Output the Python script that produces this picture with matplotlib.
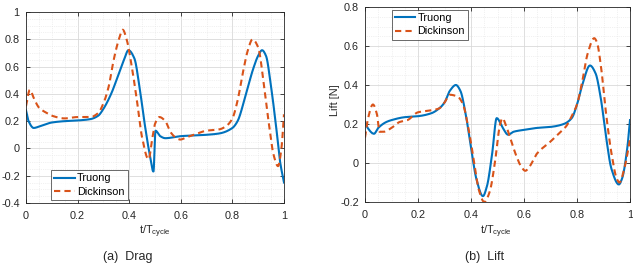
import numpy as np
import matplotlib
matplotlib.use("Agg")
import matplotlib.pyplot as plt
from matplotlib.ticker import MultipleLocator

plt.rcParams['font.family'] = ['Liberation Sans', 'DejaVu Sans']

BLUE = '#0072BD'
ORANGE = '#D95319'

# ---- Drag data ----
drag_truong_t = [0.0, 0.01, 0.03, 0.05, 0.1, 0.15, 0.2, 0.25, 0.28, 0.3, 0.33, 0.36, 0.38, 0.397, 0.42,
                 0.44, 0.46, 0.48, 0.494, 0.502, 0.52, 0.54, 0.6, 0.7, 0.75, 0.8, 0.82, 0.85, 0.88, 0.9,
                 0.915, 0.93, 0.95, 0.97, 0.985, 1.0]
drag_truong_v = [0.28, 0.2, 0.15, 0.16, 0.19, 0.2, 0.205, 0.215, 0.24, 0.29, 0.4, 0.55, 0.65, 0.72, 0.66,
                 0.45, 0.18, -0.05, -0.17, 0.13, 0.09, 0.075, 0.09, 0.1, 0.11, 0.15, 0.2, 0.38, 0.58, 0.68,
                 0.72, 0.68, 0.45, 0.15, -0.1, -0.25]
drag_dick_t = [0.0, 0.015, 0.03, 0.05, 0.08, 0.1, 0.15, 0.2, 0.25, 0.28, 0.3, 0.32, 0.34, 0.36, 0.375,
               0.39, 0.41, 0.43, 0.45, 0.475, 0.49, 0.5, 0.517, 0.54, 0.56, 0.58, 0.598, 0.62, 0.65, 0.7,
               0.75, 0.78, 0.8, 0.82, 0.84, 0.86, 0.878, 0.9, 0.92, 0.94, 0.96, 0.977, 0.99, 1.0]
drag_dick_v = [0.31, 0.43, 0.37, 0.3, 0.26, 0.24, 0.22, 0.23, 0.23, 0.26, 0.33, 0.45, 0.65, 0.8, 0.87,
               0.8, 0.6, 0.35, 0.08, -0.08, 0.08, 0.18, 0.23, 0.2, 0.12, 0.08, 0.065, 0.08, 0.1, 0.13,
               0.14, 0.17, 0.22, 0.35, 0.55, 0.72, 0.8, 0.74, 0.5, 0.2, -0.05, -0.13, 0.0, 0.25]

# ---- Lift data ----
lift_truong_t = [0.0, 0.01, 0.034, 0.05, 0.08, 0.1, 0.15, 0.2, 0.25, 0.28, 0.3, 0.32, 0.343, 0.36, 0.38,
                 0.4, 0.42, 0.445, 0.46, 0.48, 0.497, 0.52, 0.54, 0.56, 0.6, 0.65, 0.7, 0.75, 0.78, 0.8,
                 0.82, 0.849, 0.87, 0.89, 0.91, 0.93, 0.958, 0.97, 0.99, 1.0]
lift_truong_v = [0.21, 0.18, 0.15, 0.18, 0.21, 0.22, 0.235, 0.24, 0.255, 0.28, 0.31, 0.37, 0.40, 0.37, 0.25,
                 0.08, -0.08, -0.17, -0.12, 0.05, 0.23, 0.18, 0.145, 0.16, 0.17, 0.18, 0.185, 0.2, 0.23, 0.3,
                 0.4, 0.5, 0.46, 0.33, 0.13, -0.03, -0.11, -0.08, 0.08, 0.22]
lift_dick_t = [0.0, 0.01, 0.03, 0.045, 0.055, 0.07, 0.1, 0.13, 0.16, 0.2, 0.25, 0.28, 0.3, 0.32, 0.35,
               0.37, 0.39, 0.41, 0.43, 0.45, 0.47, 0.49, 0.51, 0.519, 0.53, 0.55, 0.57, 0.59, 0.605, 0.62,
               0.65, 0.7, 0.73, 0.76, 0.78, 0.8, 0.82, 0.84, 0.865, 0.875, 0.89, 0.91, 0.93, 0.95, 0.96,
               0.98, 1.0]
lift_dick_v = [0.13, 0.22, 0.3, 0.25, 0.16, 0.16, 0.18, 0.21, 0.22, 0.26, 0.27, 0.28, 0.31, 0.35, 0.34,
               0.3, 0.18, 0.02, -0.14, -0.2, -0.15, 0.0, 0.2, 0.23, 0.2, 0.12, 0.04, -0.02, -0.04, -0.02,
               0.05, 0.11, 0.15, 0.19, 0.24, 0.3, 0.42, 0.56, 0.64, 0.62, 0.5, 0.25, 0.05, -0.08, -0.1,
               -0.02, 0.12]

series_labels = ['Truong', 'Dickinson']
x_ticks = [0, 0.2, 0.4, 0.6, 0.8, 1]
x_ticklabels = ['0', '0.2', '0.4', '0.6', '0.8', '1']
drag_yticks = [-0.4, -0.2, 0, 0.2, 0.4, 0.6, 0.8, 1]
drag_yticklabels = ['-0.4', '-0.2', '0', '0.2', '0.4', '0.6', '0.8', '1']
lift_yticks = [-0.2, 0, 0.2, 0.4, 0.6, 0.8]
lift_yticklabels = ['-0.2', '0', '0.2', '0.4', '0.6', '0.8']


def smooth(t, v):
    t = np.asarray(t); v = np.asarray(v)
    tt = np.linspace(t[0], t[-1], 800)
    h = np.diff(t); d = np.diff(v) / h
    m = np.zeros_like(v)
    for i in range(1, len(v) - 1):
        if d[i - 1] * d[i] <= 0:
            m[i] = 0
        else:
            w1 = 2 * h[i] + h[i - 1]; w2 = h[i] + 2 * h[i - 1]
            m[i] = (w1 + w2) / (w1 / d[i - 1] + w2 / d[i])
    m[0] = d[0]; m[-1] = d[-1]
    idx = np.clip(np.searchsorted(t, tt) - 1, 0, len(h) - 1)
    s = (tt - t[idx]) / h[idx]
    h00 = 2 * s**3 - 3 * s**2 + 1; h10 = s**3 - 2 * s**2 + s
    h01 = -2 * s**3 + 3 * s**2; h11 = s**3 - s**2
    yy = h00 * v[idx] + h10 * h[idx] * m[idx] + h01 * v[idx + 1] + h11 * h[idx] * m[idx + 1]
    return tt, yy


W, H = 633, 265
fig = plt.figure(figsize=(W / 100, H / 100), dpi=100)
ax1 = fig.add_axes([26/W, 1-203/H, 258/W, 191/H])
ax2 = fig.add_axes([365/W, 1-202/H, 265/W, 195/H])

FS = 7.8
TXT = '#262626'

def style(ax, yticks, yticklabels, ylim):
    ax.set_xlim(0, 1)
    ax.set_ylim(*ylim)
    ax.set_xticks(x_ticks)
    ax.set_xticklabels(x_ticklabels)
    ax.set_yticks(yticks)
    ax.set_yticklabels(yticklabels)
    ax.xaxis.set_minor_locator(MultipleLocator(0.05))
    ax.yaxis.set_minor_locator(MultipleLocator(0.05))
    ax.grid(which='major', color='#d9d9d9', linewidth=0.6)
    ax.grid(which='minor', color='#e4e4e4', linewidth=0.5, linestyle=':')
    ax.set_axisbelow(True)
    ax.tick_params(which='both', direction='in', labelsize=FS, colors=TXT, length=3, width=0.6)
    ax.tick_params(axis='y', pad=4.5)
    ax.tick_params(axis='x', pad=6)
    ax.tick_params(which='minor', length=0)
    ax.tick_params(top=True, right=True)
    for sp in ax.spines.values():
        sp.set_color(TXT); sp.set_linewidth(0.6)


LEG = dict(fontsize=FS, frameon=True, fancybox=False, edgecolor=TXT, borderpad=0.3, labelspacing=0.3,
           handlelength=1.9, handletextpad=0.2, borderaxespad=0)

t, y = smooth(drag_truong_t, drag_truong_v)
ax1.plot(t, y, color=BLUE, lw=1.5, label=series_labels[0])
t, y = smooth(drag_dick_t, drag_dick_v)
ax1.plot(t, y, color=ORANGE, lw=1.5, ls=(0, (3, 2)), label=series_labels[1])
style(ax1, drag_yticks, drag_yticklabels, (-0.4, 1.0))
leg1 = ax1.legend(loc='lower left', bbox_to_anchor=(0.097, 0.016), **LEG)
leg1.get_frame().set_linewidth(0.6)

t, y = smooth(lift_truong_t, lift_truong_v)
ax2.plot(t, y, color=BLUE, lw=1.5, label=series_labels[0])
t, y = smooth(lift_dick_t, lift_dick_v)
ax2.plot(t, y, color=ORANGE, lw=1.5, ls=(0, (3, 2)), label=series_labels[1])
style(ax2, lift_yticks, lift_yticklabels, (-0.2, 0.8))
leg2 = ax2.legend(loc='upper left', bbox_to_anchor=(0.1, 0.985), **LEG)
leg2.get_frame().set_linewidth(0.6)

fig.text(335/W, 1-100/H, 'Lift [N]', rotation=90, ha='center', va='center', fontsize=FS, color=TXT)

for cx in (155, 496):
    fig.text(cx/W, 1-234/H, r't/T$_{\mathregular{cycle}}$', ha='center', va='baseline', fontsize=FS, color=TXT)

fig.text(128/W, 1-260/H, '(a)  Drag', ha='center', va='baseline', fontsize=9, color=TXT)
fig.text(485/W, 1-260/H, '(b)  Lift', ha='center', va='baseline', fontsize=9, color=TXT)

fig.savefig('out.png', dpi=100)
